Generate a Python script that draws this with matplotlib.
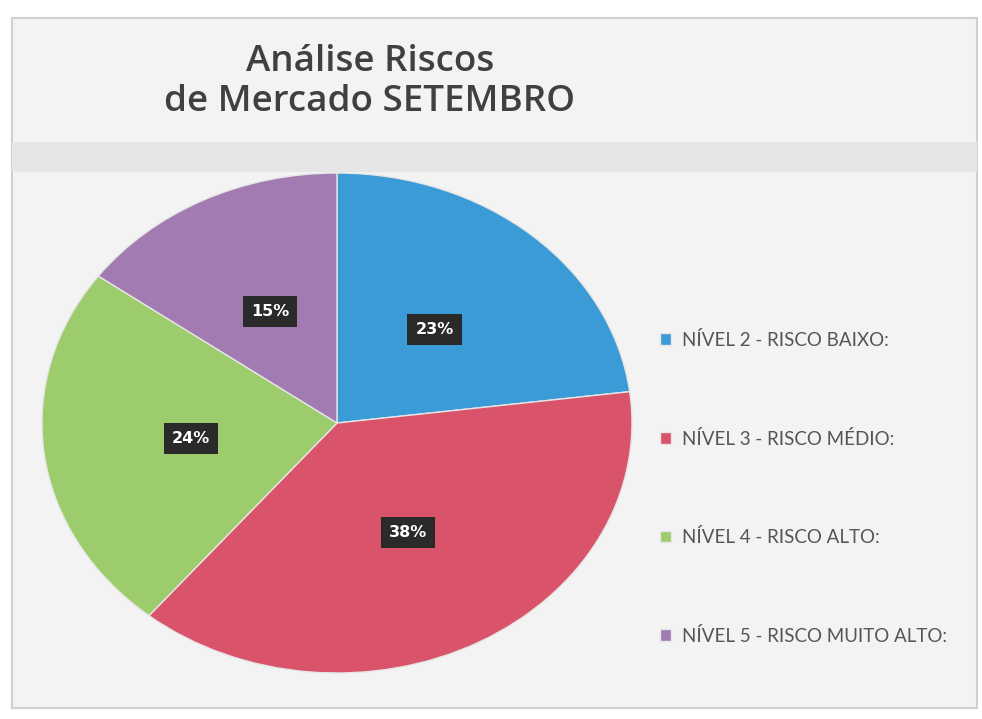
import matplotlib.pyplot as plt
from matplotlib.patches import Rectangle

# data
labels = ["NÍVEL 2 - RISCO BAIXO:", "NÍVEL 3 - RISCO MÉDIO:",
          "NÍVEL 4 - RISCO ALTO:", "NÍVEL 5 - RISCO MUITO ALTO:"]
values = [23, 38, 24, 15]
colors = ["#3b9bd6", "#d9546b", "#9dcc6c", "#a17bb2"]

fig = plt.figure(figsize=(9.82, 7.19), dpi=100)
fig.patch.set_facecolor("white")
W, H = 982, 719

# scanned page background
fig.patches.append(Rectangle((12 / W, 1 - 708 / H), 965 / W, 690 / H,
                             transform=fig.transFigure, facecolor="#f3f3f3",
                             edgecolor="#d0d0d0", linewidth=1.5, zorder=-2))
fig.patches.append(Rectangle((12 / W, 1 - 172 / H), 965 / W, 30 / H,
                             transform=fig.transFigure, facecolor="#e6e6e6",
                             edgecolor="none", zorder=-1))

# pie axes, stretched horizontally like the scan
ax = fig.add_axes([42 / W, 1 - 673 / H, 590 / W, 500 / H])
wedges, texts, autotexts = ax.pie(
    values, colors=colors, startangle=90, counterclock=False,
    autopct="%1.0f%%", pctdistance=0.5,
    wedgeprops=dict(edgecolor="#e6e6e6", linewidth=1),
    textprops=dict(color="white", fontsize=11.5, fontweight="bold",
                   family="DejaVu Sans"))
for t in autotexts:
    t.set_bbox(dict(boxstyle="square,pad=0.5", facecolor="#2a2a2a",
                    edgecolor="none"))
ax.set_aspect("auto")
ax.set_xlim(-1, 1)
ax.set_ylim(-1, 1)
ax.axis("off")

fig.text(370 / W, 1 - 82 / H, "Análise Riscos\nde Mercado SETEMBRO",
         ha="center", va="center", fontsize=26.5, fontweight="semibold",
         color="#404040", family="Open Sans", linespacing=1.12)

leg = fig.legend(wedges, labels, loc="upper left",
                 bbox_to_anchor=(643 / W, 1 - 314 / H), frameon=False,
                 fontsize=13.5, labelspacing=4.3, handlelength=0.6,
                 handleheight=0.6, handletextpad=0.6)
for t in leg.get_texts():
    t.set_color("#555555")
    t.set_family("Lato")

fig.savefig("out.png", dpi=100)
